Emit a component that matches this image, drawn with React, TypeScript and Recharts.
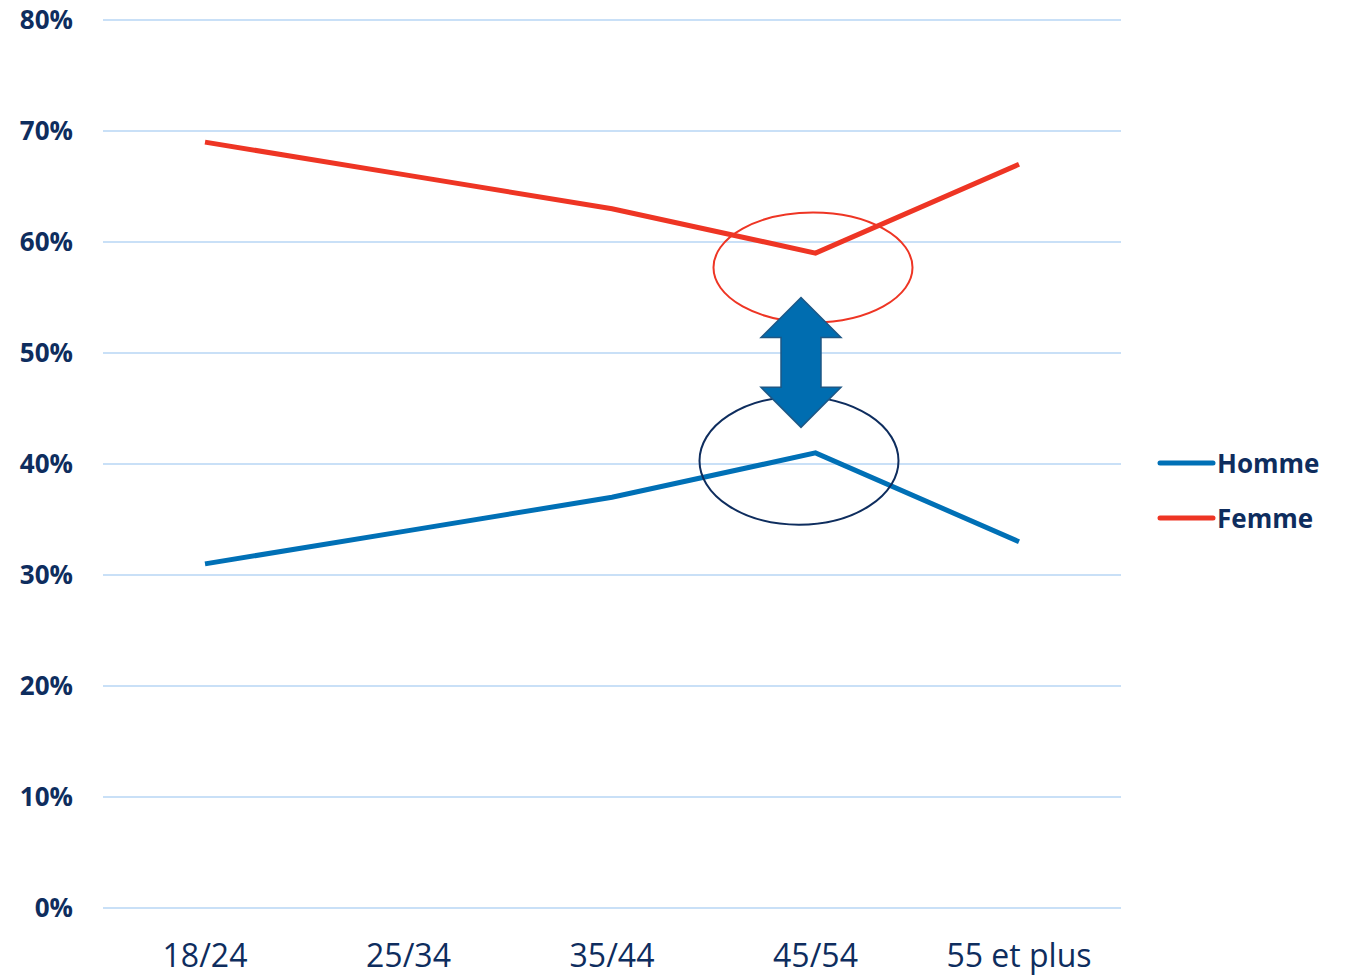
import React from 'react';
import { LineChart, Line, XAxis, YAxis, CartesianGrid, Legend, ReferenceLine } from 'recharts';

// Age groups
const categories = ['18/24', '25/34', '35/44', '45/54', '55 et plus'];
// Share by sex, in %
const homme = [31, 34, 37, 41, 33];
const femme = [69, 66, 63, 59, 67];
const yTicks = [0, 10, 20, 30, 40, 50, 60, 70, 80];

// Highlighted gap at 45/54
const focusCategory = '45/54';
const femmeFocusCenter = 57.7;
const hommeFocusCenter = 40.3;
const arrowTop = 55.0;
const arrowBottom = 43.3;

const data = categories.map((c, i) => ({ age: c, Homme: homme[i], Femme: femme[i] }));

const NAVY = '#0E2D5E';
const BLUE = '#0070B6';
const RED = '#EE3524';
const GRID = '#C9E0F7';
const FONT = '"Open Sans", sans-serif';

// Ellipse centred on the segment's start point
const makeEllipse = (dx: number, rx: number, ry: number, stroke: string) => (props: any) => (
  <ellipse cx={props.x1 + dx} cy={props.y1} rx={rx} ry={ry} fill="none" stroke={stroke} strokeWidth={2} />
);

const DoubleArrow = (props: any) => {
  const cx = props.x1 - 14.5;
  const top = Math.min(props.y1, props.y2);
  const bottom = Math.max(props.y1, props.y2);
  const headH = 40;
  const headW = 40;
  const shaftW = 20;
  const d = [
    `M ${cx} ${top}`,
    `L ${cx + headW} ${top + headH}`,
    `L ${cx + shaftW} ${top + headH}`,
    `L ${cx + shaftW} ${bottom - headH}`,
    `L ${cx + headW} ${bottom - headH}`,
    `L ${cx} ${bottom}`,
    `L ${cx - headW} ${bottom - headH}`,
    `L ${cx - shaftW} ${bottom - headH}`,
    `L ${cx - shaftW} ${top + headH}`,
    `L ${cx - headW} ${top + headH}`,
    'Z',
  ].join(' ');
  return <path d={d} fill="#006DB0" stroke="#1D5785" strokeWidth={1.5} strokeLinejoin="miter" />;
};

const LegendContent = () => (
  <div style={{ fontFamily: FONT, fontWeight: 700, fontSize: 26, color: NAVY }}>
    {[
      { name: 'Homme', color: BLUE },
      { name: 'Femme', color: RED },
    ].map((s) => (
      <div key={s.name} style={{ display: 'flex', alignItems: 'center', height: 55 }}>
        <svg width={60} height={10}>
          <line x1={3} y1={5} x2={56} y2={5} stroke={s.color} strokeWidth={5} strokeLinecap="round" />
        </svg>
        <span>{s.name}</span>
      </div>
    ))}
  </div>
);

export default function App() {
  return (
    <div style={{ position: 'absolute', left: 0, top: 0, width: 1353, height: 976, background: '#fff' }}>
      <LineChart
        width={1353}
        height={976}
        data={data}
        margin={{ top: 20, right: 42, left: 0, bottom: 38 }}
      >
        <CartesianGrid vertical={false} stroke={GRID} strokeWidth={2} />
        <XAxis
          dataKey="age"
          axisLine={false}
          tickLine={false}
          tickSize={0}
          tickMargin={36}
          padding={{ left: 102, right: 102 }}
          tick={{ fill: NAVY, fontSize: 32, fontFamily: FONT }}
        />
        <YAxis
          domain={[0, 80]}
          ticks={yTicks}
          width={103}
          axisLine={false}
          tickLine={false}
          tickSize={0}
          tickMargin={30}
          tickFormatter={(v: number) => `${v}%`}
          tick={{ fill: NAVY, fontSize: 26, fontFamily: FONT, fontWeight: 700 }}
        />
        <Line type="linear" dataKey="Homme" stroke={BLUE} strokeWidth={5} dot={false} isAnimationActive={false} />
        <Line type="linear" dataKey="Femme" stroke={RED} strokeWidth={5} dot={false} isAnimationActive={false} />
        <ReferenceLine
          segment={[
            { x: focusCategory, y: femmeFocusCenter },
            { x: focusCategory, y: femmeFocusCenter },
          ]}
          shape={makeEllipse(-2.5, 99.5, 55, RED)}
        />
        <ReferenceLine
          segment={[
            { x: focusCategory, y: hommeFocusCenter },
            { x: focusCategory, y: hommeFocusCenter },
          ]}
          shape={makeEllipse(-16.5, 99.5, 64, NAVY)}
        />
        <ReferenceLine
          segment={[
            { x: focusCategory, y: arrowTop },
            { x: focusCategory, y: arrowBottom },
          ]}
          shape={DoubleArrow}
        />
        <Legend
          layout="vertical"
          align="right"
          verticalAlign="middle"
          content={LegendContent}
          wrapperStyle={{ left: 1157, top: 435, width: 190 }}
        />
      </LineChart>
    </div>
  );
}
